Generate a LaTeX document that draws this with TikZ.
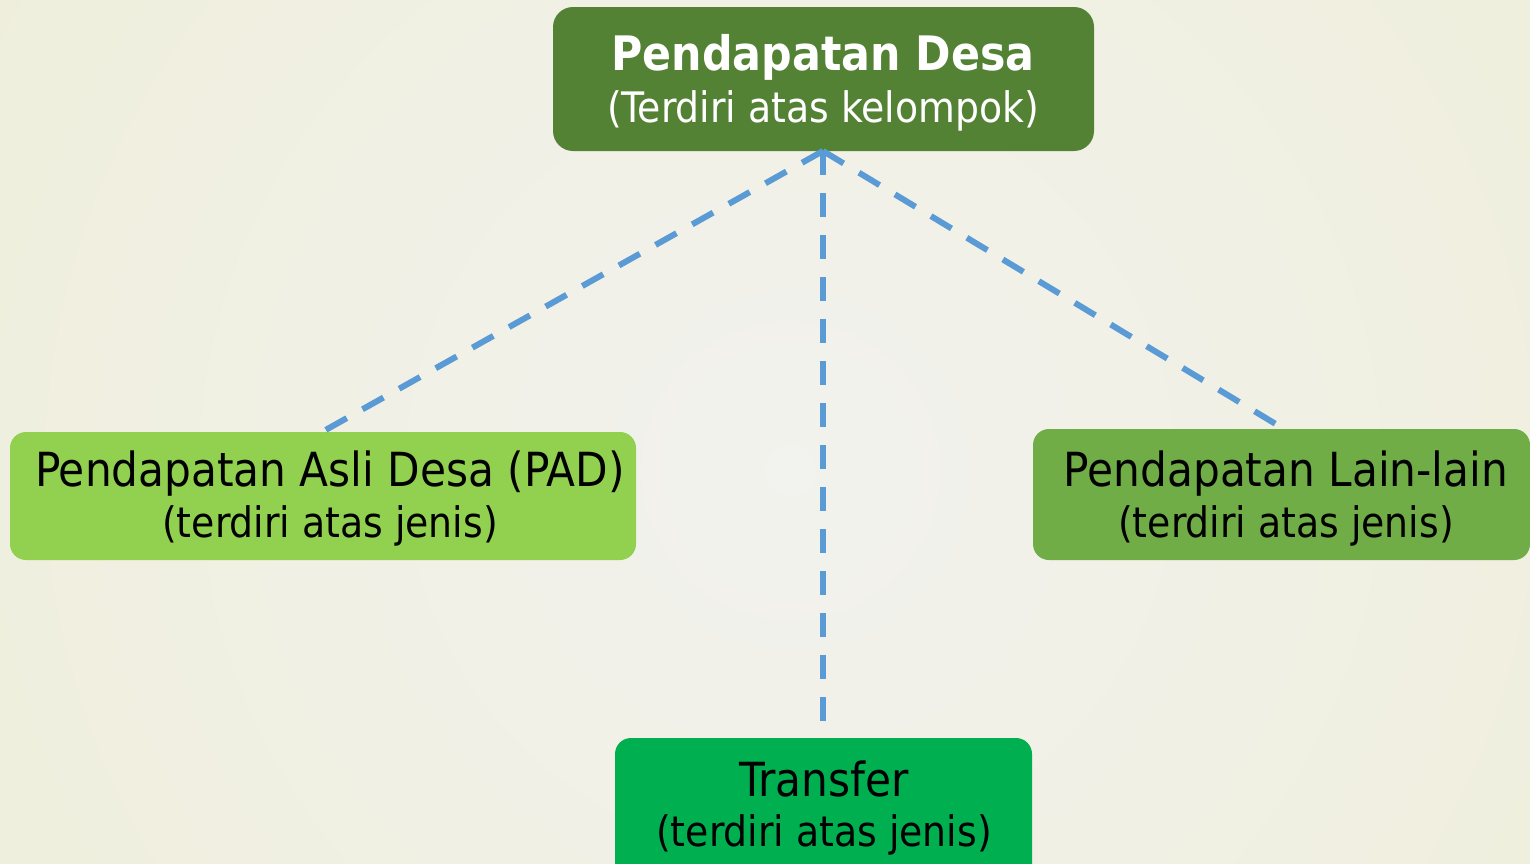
\documentclass[tikz,border=0pt]{standalone}
\usepackage{fontspec}
\setmainfont{DejaVu Sans Condensed}
\newfontfamily\boldf{DejaVu Sans Condensed Bold}
\definecolor{bgin}{HTML}{F2F2EE}
\definecolor{bgout}{HTML}{ECEBCB}
\definecolor{topg}{HTML}{548235}
\definecolor{leftg}{HTML}{92D050}
\definecolor{rightg}{HTML}{70AD47}
\definecolor{botg}{HTML}{00B050}
\definecolor{dashb}{HTML}{5B9BD5}
\tikzset{
  boxn/.style={rounded corners=18pt, inner sep=0pt, anchor=north west},
  linea/.style={anchor=base, inner sep=0pt, font=\fontsize{47}{47}\selectfont},
  lineb/.style={anchor=base, inner sep=0pt, font=\fontsize{42}{42}\selectfont},
  conn/.style={draw=dashb, line width=6pt, dash pattern=on 24pt off 18pt},
}
\begin{document}
\begin{tikzpicture}[x=1pt,y=-1pt]
\useasboundingbox (0,0) rectangle (1530,863);
\clip (0,0) rectangle (1530,863);
\shade[inner color=bgin, outer color=bgout] (790,470) circle (1800);
% boxes
\path[fill=topg, rounded corners=20pt] (553,7) rectangle (1094,151);
\node[boxn, minimum width=541pt, minimum height=144pt] (top) at (553,7) {};
\path[fill=leftg, rounded corners=16pt] (10,432) rectangle (636,560);
\node[boxn, minimum width=626pt, minimum height=128pt] (pad) at (10,432) {};
\path[fill=rightg, rounded corners=16pt] (1033,429) rectangle (1530,560);
\node[boxn, minimum width=497pt, minimum height=131pt] (lain) at (1033,429) {};
\path[fill=botg, rounded corners=16pt] (615,738) rectangle (1032,890);
\node[boxn, minimum width=417pt, minimum height=152pt] (trf) at (615,738) {};
% texts
\node[linea, text=white, font=\fontsize{47.5}{47.5}\boldf] (t1) at (823,70) {Pendapatan Desa};
\node[lineb, text=white] (t2) at (823,122) {(Terdiri atas kelompok)};
\node[linea] (p1) at (330,486) {Pendapatan Asli Desa (PAD)};
\node[lineb] (p2) at (330,537) {(terdiri atas jenis)};
\node[linea] (l1) at (1286,486) {Pendapatan Lain-lain};
\node[lineb] (l2) at (1286,537) {(terdiri atas jenis)};
\node[linea] (b1) at (824,796) {Transfer};
\node[lineb] (b2) at (824,846) {(terdiri atas jenis)};
% connectors
\coordinate (hub) at (823,151);
\coordinate (padtop) at (322,432);
\coordinate (laintop) at (1284,429);
\coordinate (trftop) at (823,738);
\draw[conn] (hub) -- (padtop);
\draw[conn] (hub) -- (laintop);
\draw[conn, shorten >=9pt] (hub) -- (trftop);
\end{tikzpicture}
\end{document}
